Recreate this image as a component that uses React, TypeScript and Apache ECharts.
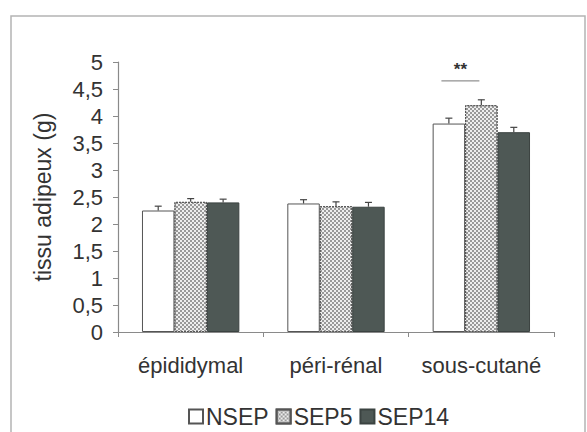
import React, { useEffect, useRef } from "react";
import * as echarts from "echarts";

const categories = ["épididymal", "péri-rénal", "sous-cutané"];
const seriesNames = ["NSEP", "SEP5", "SEP14"];
const nsep = [2.25, 2.38, 3.86];
const nsepErr = [0.08, 0.07, 0.1];
const sep5 = [2.41, 2.33, 4.2];
const sep5Err = [0.06, 0.08, 0.1];
const sep14 = [2.4, 2.32, 3.7];
const sep14Err = [0.06, 0.08, 0.09];
const yTicks = [0, 0.5, 1, 1.5, 2, 2.5, 3, 3.5, 4, 4.5, 5];
// significance: category index, line value, star value
const signif = [[2, 4.65, 4.87]];

const FONT = "'Liberation Sans', Arial, sans-serif";
const GAP_FRAC = 0.33;

export default function App() {
  const ref = useRef<HTMLDivElement>(null);
  useEffect(() => {
    document.body.style.margin = "0";
    const chart = echarts.init(ref.current!, null, { renderer: "svg" });
    const barW = (api: any) => (api.size([1, 0])[0] * (1 - GAP_FRAC)) / 3;
    const errSeries = (vals: number[], errs: number[], idx: number) => ({
      type: "custom",
      z: 5,
      silent: true,
      data: vals.map((v, i) => [i, v, errs[i]]),
      encode: { x: 0, y: 1 },
      renderItem: (params: any, api: any) => {
        const bw = barW(api);
        const c = api.coord([api.value(0), api.value(1)]);
        const t = api.coord([api.value(0), api.value(1) + api.value(2)]);
        const x = c[0] + (idx - 1) * bw;
        const st = { stroke: "#444", lineWidth: 1.2 };
        return {
          type: "group",
          children: [
            { type: "line", shape: { x1: x, y1: c[1], x2: x, y2: t[1] }, style: st },
            { type: "line", shape: { x1: x - 3.5, y1: t[1], x2: x + 3.5, y2: t[1] }, style: st },
          ],
        };
      },
    });
    const yFmt = (v: number) => (yTicks.includes(v) ? String(v).replace(".", ",") : "");
    chart.setOption({
      animation: false,
      backgroundColor: "#ffffff",
      textStyle: { fontFamily: FONT },
      graphic: [
        {
          type: "rect",
          shape: { x: 11, y: 16, width: 574, height: 430 },
          style: { fill: "none", stroke: "#b4b4b4", lineWidth: 1.5 },
          silent: true,
        },
      ],
      grid: { left: 118, right: 33, top: 62, bottom: 100 },
      legend: {
        data: seriesNames,
        left: 183,
        top: 400,
        itemWidth: 14,
        itemHeight: 14,
        itemGap: 7,
        icon: "rect",
        textStyle: { fontSize: 23, color: "#333", fontFamily: FONT, padding: [0, 0, 0, -2] },
      },
      xAxis: {
        type: "category",
        data: categories,
        axisLine: { lineStyle: { color: "#8a8a8a", width: 1.2 } },
        axisTick: { show: true, length: 5, lineStyle: { color: "#8a8a8a" } },
        axisLabel: { fontSize: 22, color: "#333", margin: 22, fontFamily: FONT, interval: 0 },
      },
      yAxis: {
        type: "value",
        min: 0,
        max: 5,
        interval: 0.5,
        name: "tissu adipeux (g)",
        nameLocation: "middle",
        nameGap: 64,
        nameTextStyle: { fontSize: 23, color: "#333", fontFamily: FONT },
        axisLine: { show: true, lineStyle: { color: "#8a8a8a", width: 1.2 } },
        axisTick: { show: true, length: 5, lineStyle: { color: "#8a8a8a" } },
        splitLine: { show: false },
        axisLabel: { fontSize: 22, color: "#333", margin: 15, fontFamily: FONT, formatter: yFmt },
      },
      series: [
        {
          name: "NSEP",
          type: "bar",
          data: nsep,
          barGap: "0%",
          barCategoryGap: GAP_FRAC * 100 + "%",
          itemStyle: { color: "#ffffff", borderColor: "#555", borderWidth: 1 },
        },
        {
          name: "SEP5",
          type: "bar",
          data: sep5,
          barGap: "0%",
          barCategoryGap: GAP_FRAC * 100 + "%",
          itemStyle: {
            color: "#eeeeee",
            borderColor: "#555",
            borderWidth: 1,
            borderType: [2, 1],
            decal: {
              symbol: "rect",
              symbolSize: 1,
              color: "#999999",
              dashArrayX: [[2, 2], [0, 2, 2, 0]],
              dashArrayY: [2, 0],
            },
          },
        },
        {
          name: "SEP14",
          type: "bar",
          data: sep14,
          barGap: "0%",
          barCategoryGap: GAP_FRAC * 100 + "%",
          itemStyle: { color: "#4e5855", borderColor: "#3b4341", borderWidth: 1 },
        },
        errSeries(nsep, nsepErr, 0),
        errSeries(sep5, sep5Err, 1),
        errSeries(sep14, sep14Err, 2),
        {
          type: "custom",
          z: 6,
          silent: true,
          data: signif,
          encode: { x: 0, y: 1 },
          renderItem: (params: any, api: any) => {
            const bw = barW(api);
            const c = api.coord([api.value(0), api.value(1)]);
            const s = api.coord([api.value(0), api.value(2)]);
            const x1 = c[0] - 1.23 * bw;
            const x2 = c[0] - 0.06 * bw;
            return {
              type: "group",
              children: [
                { type: "line", shape: { x1, y1: c[1], x2, y2: c[1] }, style: { stroke: "#777", lineWidth: 1 } },
                {
                  type: "text",
                  x: (x1 + x2) / 2,
                  y: s[1],
                  style: {
                    text: "**",
                    fill: "#333",
                    font: `bold 17px ${FONT}`,
                    align: "center",
                    verticalAlign: "middle",
                  },
                },
              ],
            };
          },
        },
      ],
    });
    return () => chart.dispose();
  }, []);
  return <div ref={ref} style={{ width: 587, height: 432 }} />;
}
